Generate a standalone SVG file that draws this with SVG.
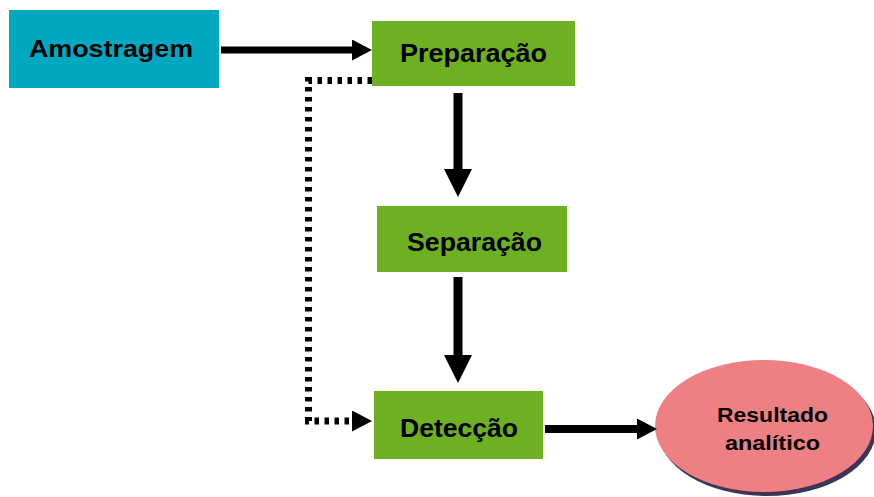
<svg xmlns="http://www.w3.org/2000/svg" width="874" height="497" viewBox="0 0 874 497">
  <style>
    .lbl { font-family: "Liberation Sans", Arial, sans-serif; font-weight: bold; fill: #000; text-anchor: middle; }
    .big { font-size: 26px; }
    .green { fill: #6db022; }
    .conn { stroke: #000; fill: none; }
  </style>
  <defs>
    <marker id="ah" markerUnits="userSpaceOnUse" markerWidth="20" markerHeight="21" refX="0" refY="10.5" orient="auto">
      <path d="M0,0 L20,10.5 L0,21 Z" fill="#000"/>
    </marker>
    <marker id="av" markerUnits="userSpaceOnUse" markerWidth="28" markerHeight="28" refX="0" refY="14" orient="auto">
      <path d="M0,0 L28,14 L0,28 Z" fill="#000"/>
    </marker>
  </defs>
  <rect width="874" height="497" fill="#fff"/>

  <g id="amostragem">
    <rect x="9" y="10" width="210" height="78" fill="#00a8c2"/>
    <text class="lbl" x="111" y="57" font-size="24" textLength="164" lengthAdjust="spacingAndGlyphs">Amostragem</text>
  </g>
  <g id="preparacao">
    <rect class="green" x="372" y="21" width="203" height="65"/>
    <text class="lbl big" x="473.5" y="62" textLength="147" lengthAdjust="spacingAndGlyphs">Preparação</text>
  </g>
  <g id="separacao">
    <rect class="green" x="377" y="206" width="190" height="66"/>
    <text class="lbl big" x="474.5" y="251" textLength="135" lengthAdjust="spacingAndGlyphs">Separação</text>
  </g>
  <g id="deteccao">
    <rect class="green" x="374" y="391" width="169" height="68"/>
    <text class="lbl big" x="459" y="437" textLength="118" lengthAdjust="spacingAndGlyphs">Detecção</text>
  </g>
  <g id="resultado">
    <ellipse cx="767" cy="430" rx="109" ry="66" fill="#3b3557"/>
    <ellipse cx="764" cy="426" rx="109" ry="66" fill="#ee7f82"/>
    <text class="lbl" x="772.5" y="422" font-size="21" textLength="111" lengthAdjust="spacingAndGlyphs">Resultado</text>
    <text class="lbl" x="772.5" y="450" font-size="21" textLength="95" lengthAdjust="spacingAndGlyphs">analítico</text>
  </g>

  <g id="connectors">
    <line class="conn" x1="221" y1="50" x2="352" y2="50" stroke-width="7" marker-end="url(#ah)"/>
    <line class="conn" x1="458" y1="93" x2="458" y2="169" stroke-width="9" marker-end="url(#av)"/>
    <line class="conn" x1="458" y1="277" x2="458" y2="355" stroke-width="9" marker-end="url(#av)"/>
    <line class="conn" x1="545" y1="429" x2="637" y2="429" stroke-width="8" marker-end="url(#ah)"/>
    <path class="conn" d="M372,80.5 H308.5 V421 H352" stroke-width="7" stroke-dasharray="4.5 5.5" marker-end="url(#ah)"/>
  </g>
</svg>
